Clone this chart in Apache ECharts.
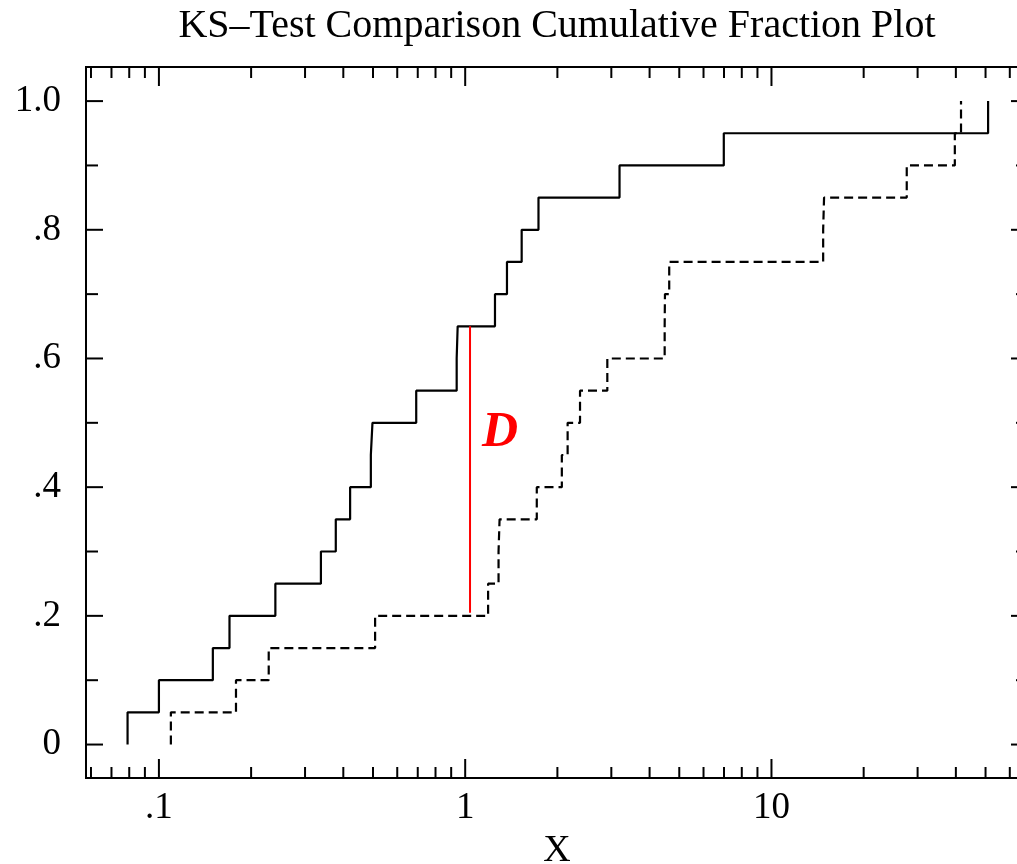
<!DOCTYPE html>
<html><head><meta charset="utf-8">
<script src="https://cdn.jsdelivr.net/npm/echarts@6/dist/echarts.min.js"></script>
<style>html,body{margin:0;padding:0;overflow:hidden;background:#fff}#c{width:1040px;height:864px}</style>
</head><body><div id="c"></div>
<script>
const titleText = 'KS\u2013Test Comparison Cumulative Fraction Plot';
const xAxisName = 'X';
const dLabel = 'D';

// solid sample: cumulative fraction steps
const solidX = [0.079, 0.079, 0.100, 0.150, 0.170, 0.240, 0.338, 0.378, 0.421, 0.492, 0.498, 0.692, 0.938, 0.945, 1.251, 1.369, 1.529, 1.735, 3.191, 6.988, 50.97];
const solidY = [0, 0.05, 0.10, 0.15, 0.20, 0.25, 0.30, 0.35, 0.40, 0.45, 0.50, 0.55, 0.60, 0.65, 0.70, 0.75, 0.80, 0.85, 0.90, 0.95, 1.00];
// dashed sample
const dashedX = [0.1094, 0.1094, 0.1785, 0.2283, 0.508, 1.188, 1.285, 1.295, 1.713, 2.068, 2.160, 2.371, 2.911, 4.48, 4.49, 4.636, 14.75, 14.85, 27.65, 39.69, 41.58];
const dashedY = [0, 0.05, 0.10, 0.15, 0.20, 0.25, 0.30, 0.35, 0.40, 0.45, 0.50, 0.55, 0.60, 0.65, 0.70, 0.75, 0.80, 0.85, 0.90, 0.95, 1.00];
// D statistic line
const dLineX = [1.037, 1.037];
const dLineY = [0.205, 0.65];

// ticks and labels
const xMajorTicks = [0.1, 1, 10];
const xMinorTicks = [0.06, 0.07, 0.08, 0.09, 0.2, 0.3, 0.4, 0.5, 0.6, 0.7, 0.8, 0.9, 2, 3, 4, 5, 6, 7, 8, 9, 20, 30, 40, 50, 60];
const xTickLabels = ['.1', '1', '10'];
const yMajorTicks = [0, 0.2, 0.4, 0.6, 0.8, 1.0];
const yMinorTicks = [0.1, 0.3, 0.5, 0.7, 0.9];
const yTickLabels = ['0', '.2', '.4', '.6', '.8', '1.0'];

const FONT = 'Liberation Serif';
const zip = (a, b) => a.map((v, i) => [v, b[i]]);

const tickData = [];
xMajorTicks.forEach(v => tickData.push([v, 0.5, 0, 1]));
xMinorTicks.forEach(v => tickData.push([v, 0.5, 0, 0]));
yMajorTicks.forEach(v => tickData.push([1, v, 1, 1]));
yMinorTicks.forEach(v => tickData.push([1, v, 1, 0]));

function renderTick(params, api) {
  const cs = params.coordSys;
  const kind = api.value(2), major = api.value(3);
  const p = api.coord([api.value(0), api.value(1)]);
  const st = {stroke: '#000', lineWidth: 2};
  if (kind === 0) {
    const len = major ? 19 : 11;
    const b = cs.y + cs.height, t = cs.y;
    return {type: 'group', children: [
      {type: 'line', shape: {x1: p[0], y1: b, x2: p[0], y2: b - len}, style: st},
      {type: 'line', shape: {x1: p[0], y1: t, x2: p[0], y2: t + len}, style: st}
    ]};
  } else {
    const len = major ? 17 : 12;
    const l = cs.x, r = cs.x + cs.width;
    return {type: 'group', children: [
      {type: 'line', shape: {x1: l, y1: p[1], x2: l + len, y2: p[1]}, style: st},
      {type: 'line', shape: {x1: r, y1: p[1], x2: r - len, y2: p[1]}, style: st}
    ]};
  }
}

function xFmt(v) {
  for (let i = 0; i < xMajorTicks.length; i++) {
    if (Math.abs(Math.log10(v) - Math.log10(xMajorTicks[i])) < 1e-6) return xTickLabels[i];
  }
  return '';
}
function yFmt(v) {
  for (let i = 0; i < yMajorTicks.length; i++) {
    if (Math.abs(v - yMajorTicks[i]) < 1e-6) return yTickLabels[i];
  }
  return '';
}

const chart = echarts.init(document.getElementById('c'), null, {renderer: 'canvas'});
chart.setOption({
  animation: false,
  backgroundColor: '#fff',
  title: {
    text: titleText, left: 557, top: 6, padding: 0, textAlign: 'center',
    textStyle: {fontFamily: FONT, fontSize: 40, fontWeight: 'normal', color: '#000'}
  },
  grid: {left: 86, top: 67, width: 942, height: 711, outerBoundsMode: 'none', containLabel: false,
         show: true, borderColor: '#000', borderWidth: 2, backgroundColor: 'transparent'},
  xAxis: {
    type: 'log', logBase: 10, min: 0.0578, max: 68.8,
    name: xAxisName, nameLocation: 'middle', nameGap: 51,
    nameTextStyle: {fontFamily: FONT, fontSize: 38, color: '#000'},
    axisLine: {show: false}, axisTick: {show: false}, splitLine: {show: false}, minorTick: {show: false},
    axisLabel: {fontFamily: FONT, fontSize: 37, color: '#000', margin: 12, showMinLabel: false, showMaxLabel: false, formatter: xFmt}
  },
  yAxis: {
    type: 'value', min: -0.052, max: 1.053,
    axisLine: {show: false}, axisTick: {show: false}, splitLine: {show: false},
    axisLabel: {fontFamily: FONT, fontSize: 37, color: '#000', margin: 25, customValues: yMajorTicks, formatter: yFmt}
  },
  series: [
    {type: 'custom', renderItem: renderTick, data: tickData, encode: {x: 0, y: 1}, silent: true, z: 1},
    {type: 'line', data: zip(solidX, solidY), step: 'end', symbol: 'none', lineStyle: {color: '#000', width: 2.2}, z: 3},
    {type: 'line', data: zip(dashedX, dashedY), step: 'end', symbol: 'none', lineStyle: {color: '#000', width: 2.2, type: [9, 5]}, z: 3},
    {type: 'line', data: zip(dLineX, dLineY), symbol: 'none', lineStyle: {color: '#ff0000', width: 2}, z: 4}
  ],
  graphic: [
    {type: 'text', x: 500, y: 433, z: 10,
     style: {text: dLabel, fill: '#ff0000', font: 'italic bold 50px "Liberation Serif"', align: 'center', verticalAlign: 'middle'}}
  ]
});
</script>
</body></html>
